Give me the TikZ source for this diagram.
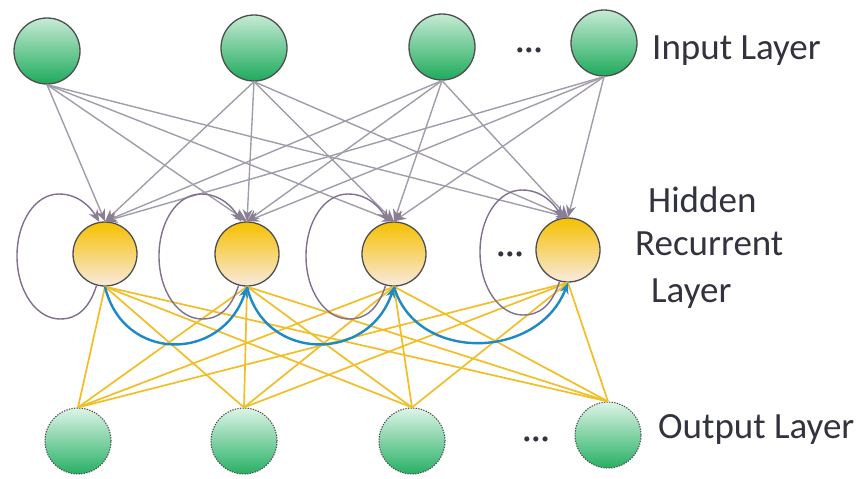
\documentclass[tikz,border=0pt]{standalone}
\usepackage{fontspec}
\setmainfont{Carlito}
\usetikzlibrary{arrows.meta,calc}
\definecolor{txt}{HTML}{33333F}
\definecolor{nborder}{HTML}{4E4E4E}
\definecolor{gtop}{HTML}{C6EBD4}
\definecolor{gbot}{HTML}{1EAA5C}
\definecolor{otop}{HTML}{DDF4E7}
\definecolor{obot}{HTML}{27B064}
\definecolor{ytop}{HTML}{F6C000}
\definecolor{ybot}{HTML}{F8EADF}
\definecolor{greyline}{HTML}{A29CAA}
\definecolor{greytip}{HTML}{8A7E96}
\definecolor{loopc}{HTML}{7F7090}
\definecolor{yline}{HTML}{F2BE25}
\definecolor{bline}{HTML}{1C8AC6}
\begin{document}
\begin{tikzpicture}[x=1pt,y=-1pt,
  inode/.style={circle,minimum size=66pt,inner sep=0pt,draw=nborder,line width=1.3pt,top color=gtop,bottom color=gbot},
  onode/.style={circle,minimum size=66pt,inner sep=0pt,draw=nborder,line width=1.1pt,dash pattern=on 1.3pt off 1.3pt,top color=otop,bottom color=obot},
  hnode/.style={circle,minimum size=64pt,inner sep=0pt,draw=nborder,line width=1.3pt,top color=ytop,bottom color=ybot},
  inarrow/.style={draw=greyline,line width=1.4pt,-{Stealth[length=12pt,width=10pt,color=greytip]}},
  loopline/.style={draw=loopc,line width=1.4pt,-{Stealth[length=12pt,width=10pt,color=greytip]}},
  ylinks/.style={draw=yline,line width=1.7pt},
  blinks/.style={draw=bline,line width=2.4pt,-{Stealth[length=11pt,width=9pt]}},
  lbl/.style={text=txt,font=\fontsize{37}{44}\selectfont,inner sep=0pt,anchor=base west},
  dots/.style={text=txt,font=\fontsize{36}{42}\selectfont,inner sep=0pt}
]
\useasboundingbox[fill=white] (0,0) rectangle (862,479);

% nodes
\node[inode] (i1) at (47,51) {};
\node[inode] (i2) at (254,48) {};
\node[inode] (i3) at (442,47) {};
\node[inode] (i4) at (604,43) {};
\node[hnode] (h1) at (105,254) {};
\node[hnode] (h2) at (247,254) {};
\node[hnode] (h3) at (394,254) {};
\node[hnode] (h4) at (568,250) {};
\node[onode] (o1) at (78,441) {};
\node[onode] (o2) at (244,441) {};
\node[onode] (o3) at (412,441) {};
\node[onode] (o4) at (608,435) {};

% labels
\node[lbl] (tin) at (652,59) {Input Layer};
\node[lbl] (th1) at (648,212) {Hidden};
\node[lbl] (th2) at (635,255) {Recurrent};
\node[lbl] (th3) at (651,302) {Layer};
\node[lbl] (tout) at (658,438) {Output Layer};
\node[dots] (d1) at (529,54) {···};
\node[dots] (d2) at (510,258) {···};
\node[dots] (d3) at (536,443) {···};

% input -> hidden
\foreach \a in {1,...,4}{
  \foreach \b in {1,...,4}{
    \draw[inarrow] (i\a.south) -- (h\b.north);
  }
}

% hidden -> output
\foreach \a in {1,...,4}{
  \foreach \b in {1,...,4}{
    \draw[ylinks] (h\a.south) -- (o\b.north);
  }
}

% self loops
\foreach \k in {1,...,4}{
  \draw[loopline] (h\k.255)
    .. controls ($(h\k.center)+(-16,55)$) and ($(h\k.center)+(-28,65)$) .. ($(h\k.center)+(-45,65)$)
    .. controls ($(h\k.center)+(-68,65)$) and ($(h\k.center)+(-88,38)$) .. ($(h\k.center)+(-88,2)$)
    .. controls ($(h\k.center)+(-88,-32)$) and ($(h\k.center)+(-70,-60)$) .. ($(h\k.center)+(-46,-60)$)
    .. controls ($(h\k.center)+(-26,-60)$) and ($(h\k.center)+(-14,-46)$) .. (h\k.100);
}

% recurrent links
\draw[blinks] (h1.south) .. controls ($(h1.south)+(18,76)$) and ($(h2.south)+(-25,76)$) .. (h2.south);
\draw[blinks] (h2.south) .. controls ($(h2.south)+(18,76)$) and ($(h3.south)+(-25,76)$) .. (h3.south);
\draw[blinks] (h3.south) .. controls ($(h3.south)+(22,76)$) and ($(h4.south)+(-30,78)$) .. (h4.south);
\end{tikzpicture}
\end{document}
